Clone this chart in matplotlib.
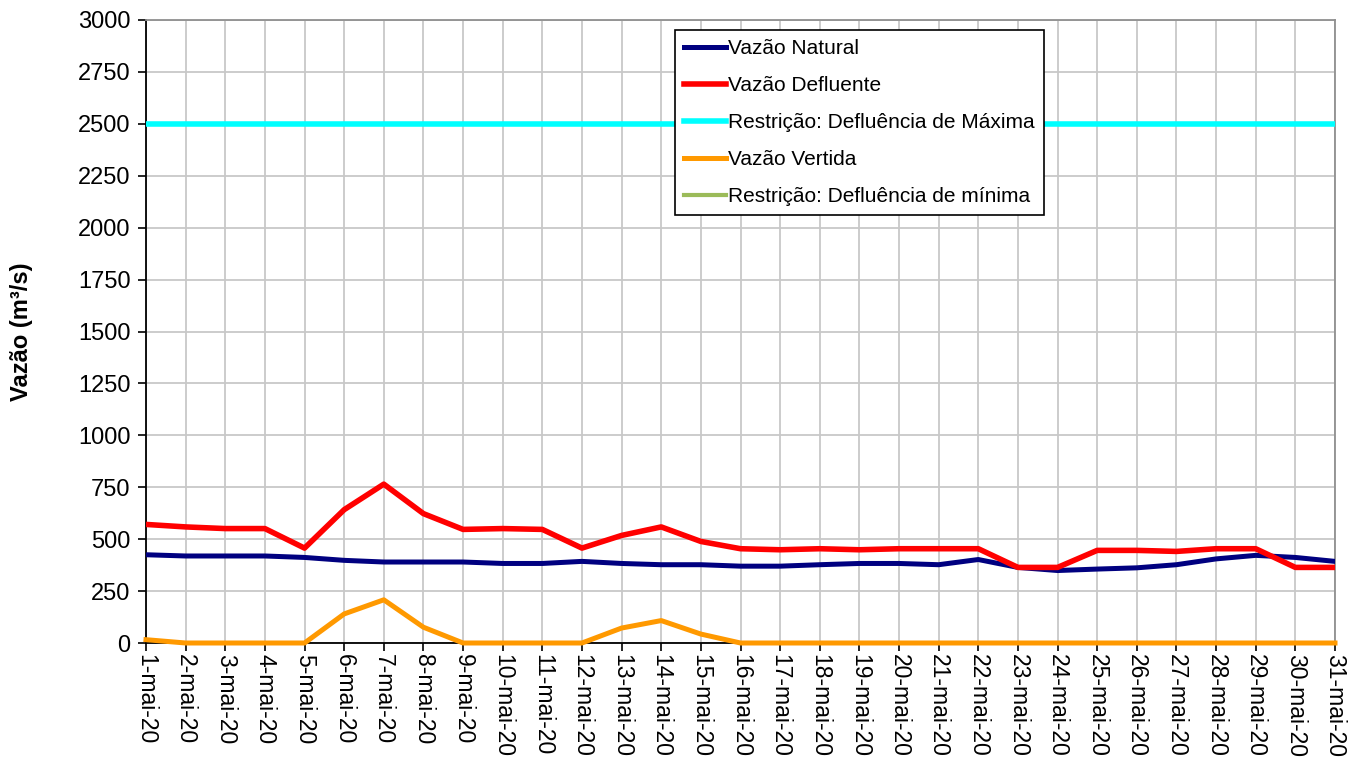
import matplotlib
matplotlib.use("Agg")
import matplotlib.pyplot as plt
import numpy as np

plt.rcParams['font.family'] = ['Liberation Sans', 'DejaVu Sans']

dias = [f"{d}-mai-20" for d in range(1, 32)]

vazao_natural = [425, 419, 419, 419, 412, 398, 390, 390, 390, 383, 383,
                 393, 383, 377, 377, 370, 370, 377, 383, 383, 377,
                 402, 364, 349, 356, 362, 377, 405, 422, 412, 393]
vazao_defluente = [571, 559, 551, 551, 457, 642, 765, 623, 547, 551, 547,
                   457, 518, 559, 489, 454, 449, 454, 449, 454, 454,
                   454, 364, 364, 446, 446, 441, 454, 454, 364, 364]
restricao_maxima = [2500] * 31
vazao_vertida = [16, 0, 0, 0, 0, 140, 208, 76, 0, 0, 0,
                 0, 72, 108, 43, 0, 0, 0, 0, 0, 0,
                 0, 0, 0, 0, 0, 0, 0, 0, 0, 0]
restricao_minima = [np.nan] * 31

W, H = 1360, 764
fig = plt.figure(figsize=(W / 100, H / 100), dpi=100)
ax = fig.add_axes([146 / W, 1 - 643 / H, (1335 - 146) / W, (643 - 20) / H])

x = np.arange(len(dias))
ax.plot(x, vazao_natural, color='#000080', lw=3.6, label='Vazão Natural', zorder=3)
ax.plot(x, vazao_defluente, color='#FF0000', lw=4.0, label='Vazão Defluente', zorder=3)
ax.plot(x, restricao_maxima, color='#00FFFF', lw=4.0, label='Restrição: Defluência de Máxima', zorder=3)
ax.plot(x, vazao_vertida, color='#FF9900', lw=3.6, label='Vazão Vertida', zorder=3, clip_on=False)
ax.plot(x, restricao_minima, color='#9BBB59', lw=3.0, label='Restrição: Defluência de mínima', zorder=3)

ax.set_xlim(0, 30)
ax.set_ylim(0, 3000)
ax.set_yticks(np.arange(0, 3001, 250))
ax.set_xticks(x)
ax.set_xticklabels(dias, rotation=-90, fontsize=16.5)
ax.tick_params(axis='y', labelsize=17, direction='out', length=6, width=1.2, colors='black', pad=5)
ax.tick_params(axis='x', direction='out', length=6, width=1.2, pad=2)

ax.grid(True, color='#C8C8C8', lw=1.3, zorder=0)
ax.set_axisbelow(True)
for s in ['left', 'bottom']:
    ax.spines[s].set_color('black')
    ax.spines[s].set_linewidth(1.3)
for s in ['top', 'right']:
    ax.spines[s].set_color('#909090')
    ax.spines[s].set_linewidth(1.3)

ax.set_ylabel('Vazão (m³/s)', fontsize=17, fontweight='bold')
ax.yaxis.set_label_coords((33 - 146) / (1335 - 146), 0.5)

leg = ax.legend(loc='upper left', bbox_to_anchor=((675 - 146) / (1335 - 146), 1 - 10 / 623),
                fontsize=15, frameon=True, fancybox=False, framealpha=1,
                edgecolor='black', handlelength=2.0, handletextpad=0.1,
                labelspacing=0.86, borderpad=0.45, borderaxespad=0)
leg.get_frame().set_linewidth(1.2)

fig.savefig('out.png', dpi=100)
